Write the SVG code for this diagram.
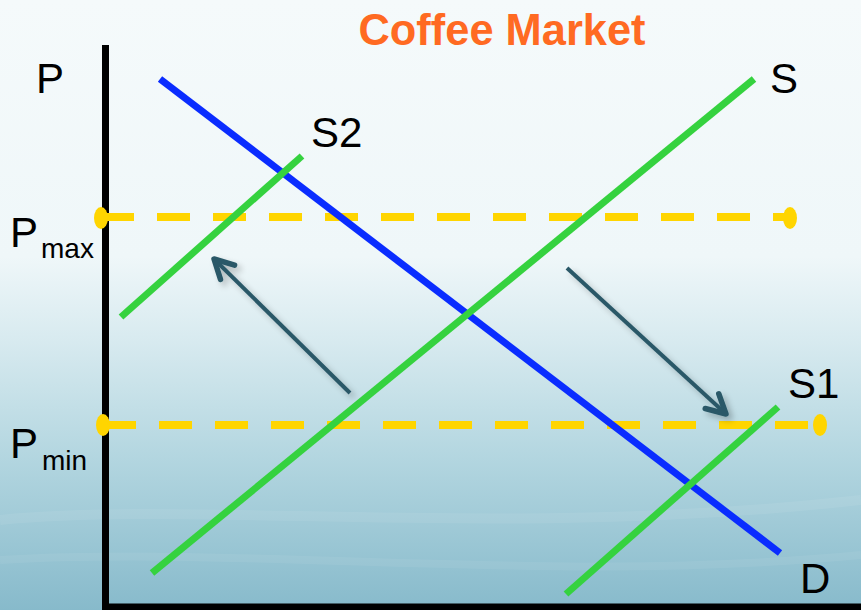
<svg xmlns="http://www.w3.org/2000/svg" width="861" height="610" viewBox="0 0 861 610">
<style>
.lbl{font-family:"Liberation Sans",Arial,sans-serif;fill:#000;}
.big{font-size:42px;}
.sub{font-size:28px;}
.sup{stroke:#35d23f;stroke-width:7;fill:none;}
.dem{stroke:#0a2cff;stroke-width:7;fill:none;}
.dash{stroke:#ffd500;stroke-width:8;stroke-dasharray:33 23;fill:none;}
.dot{fill:#ffd500;}
.shift{stroke:#2b5968;stroke-width:4;fill:none;marker-end:url(#ah);filter:url(#sh);}
.axis{stroke:#000;stroke-width:7;fill:none;}
</style>
<defs>
<linearGradient id="bg" x1="0" y1="0" x2="0" y2="1">
<stop offset="0" stop-color="#f5fafb"/>
<stop offset="0.42" stop-color="#eff7f9"/>
<stop offset="0.55" stop-color="#d9ebf0"/>
<stop offset="0.75" stop-color="#b3d6e0"/>
<stop offset="1" stop-color="#87bacb"/>
</linearGradient>
<marker id="ah" markerUnits="userSpaceOnUse" markerWidth="40" markerHeight="40" viewBox="-30 -20 40 40" refX="0" refY="0" orient="auto">
<path d="M-19 -10 L0 0 L-19 10" fill="none" stroke="#2b5968" stroke-width="5.5" stroke-linecap="round" stroke-linejoin="round"/>
</marker>
<filter id="sh" x="-20%" y="-20%" width="140%" height="140%">
<feGaussianBlur in="SourceAlpha" stdDeviation="3"/>
<feOffset dx="4" dy="4" result="b"/>
<feComponentTransfer><feFuncA type="linear" slope="0.25"/></feComponentTransfer>
<feMerge><feMergeNode/><feMergeNode in="SourceGraphic"/></feMerge>
</filter>
</defs>
<rect x="0" y="0" width="861" height="610" fill="url(#bg)"/>
<path d="M0 520 C200 500 500 540 861 500" stroke="#ffffff" stroke-opacity="0.07" stroke-width="10" fill="none"/>
<path d="M0 560 C250 545 550 585 861 555" stroke="#ffffff" stroke-opacity="0.06" stroke-width="8" fill="none"/>

<text x="502" y="45" text-anchor="middle" font-family="'Liberation Sans',Arial,sans-serif" font-weight="bold" font-size="44" fill="#ff6a22" textLength="287" lengthAdjust="spacingAndGlyphs">Coffee Market</text>

<g id="axes">
<line class="axis" x1="105.5" y1="45" x2="105.5" y2="610"/>
<line class="axis" x1="102" y1="607" x2="861" y2="607"/>
</g>

<g id="pmax">
<line class="dash" x1="101" y1="217" x2="790" y2="217"/>
<ellipse class="dot" cx="101" cy="218" rx="7" ry="11"/>
<ellipse class="dot" cx="790" cy="218" rx="7" ry="11"/>
</g>
<g id="pmin">
<line class="dash" x1="103" y1="425" x2="820" y2="425"/>
<ellipse class="dot" cx="103" cy="425" rx="7" ry="11"/>
<ellipse class="dot" cx="820" cy="425" rx="7" ry="11"/>
</g>

<g id="D"><line class="dem" x1="160" y1="79" x2="780" y2="553"/></g>
<g id="S"><line class="sup" x1="152" y1="573" x2="754" y2="79"/></g>
<g id="S2"><line class="sup" x1="121" y1="317" x2="302" y2="156"/></g>
<g id="S1"><line class="sup" x1="566" y1="594" x2="778" y2="407"/></g>

<g id="connectors">
<line class="shift" x1="350" y1="393" x2="214" y2="259"/>
<line class="shift" x1="567" y1="268" x2="726" y2="414"/>
</g>

<g id="labels">
<text class="lbl big" x="36" y="93">P</text>
<text class="lbl big" x="10" y="247">P</text>
<text class="lbl sub" x="41" y="258">max</text>
<text class="lbl big" x="10" y="458">P</text>
<text class="lbl sub" x="42" y="470">min</text>
<text class="lbl big" x="311" y="147">S2</text>
<text class="lbl big" x="770" y="93">S</text>
<text class="lbl big" x="788" y="398">S1</text>
<text class="lbl big" x="800" y="593">D</text>
</g>
</svg>
